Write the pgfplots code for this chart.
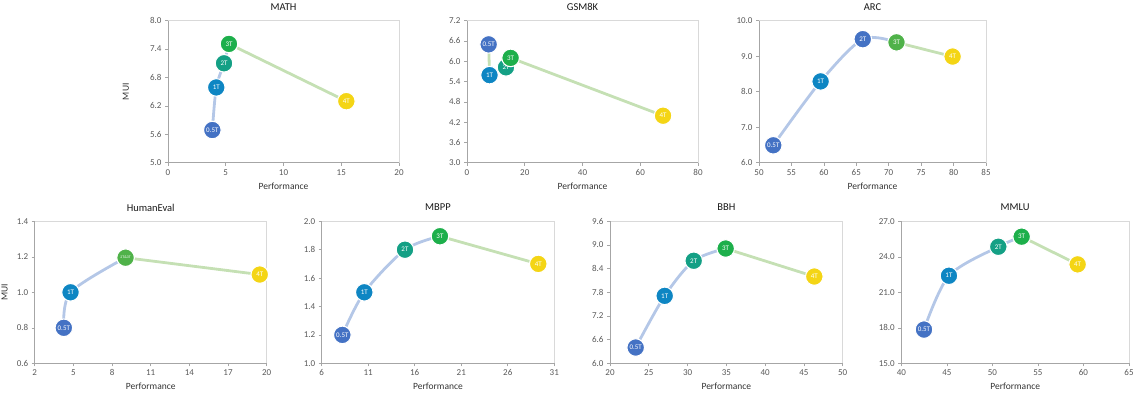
\documentclass[border=0pt]{standalone}
\usepackage{fontspec}
\setmainfont{Carlito}
\usepackage{pgfplots}
\pgfplotsset{compat=1.18}

\definecolor{cA}{HTML}{4472C4}
\definecolor{cB}{HTML}{0E86C3}
\definecolor{cC}{HTML}{14A085}
\definecolor{cD}{HTML}{1DAF4B}
\definecolor{cE}{HTML}{F4D515}
\definecolor{cF}{HTML}{4FB249}
\definecolor{lblue}{HTML}{B4C7E7}
\definecolor{lgreen}{HTML}{C5E0B4}
\definecolor{tickgray}{HTML}{595959}
\definecolor{axgray}{HTML}{A6A6A6}

\pgfplotsset{
  panel/.style={
    scale only axis, anchor=south west, height=142pt,
    axis x line*=bottom, axis y line*=left,
    axis line style={draw=axgray, line width=0.6pt},
    axis background/.style={draw=black!15, line width=0.6pt},
    tick align=outside, major tick length=3pt,
    tick style={draw=axgray, line width=0.6pt},
    minor tick num=0,
    clip=false,
    font=\fontsize{9}{10}\selectfont,
    tick label style={text=tickgray},
    /pgf/number format/assume math mode=true,
    yticklabel style={/pgf/number format/.cd, fixed, fixed zerofill, precision=1},
    xticklabel style={/pgf/number format/.cd, fixed},
    scaled ticks=false,
    title style={at={(axis description cs:0.5,1.055)}, anchor=center,
      font=\fontsize{10.5}{12}\selectfont, text=black!90},
    xlabel={Performance},
    xlabel style={at={(axis description cs:0.5,-0.165)}, anchor=center,
      font=\fontsize{9.5}{11}\selectfont, text=black!80},
    ylabel style={anchor=center, rotate=0,
      font=\fontsize{9.5}{11}\selectfont, text=black!80},
  },
  link/.style={line width=2.8pt, #1},
}

% one labelled disc: colour, label, x, y
\newcommand{\tok}[4]{%
  \addplot[only marks, mark=*, mark size=8.8pt,
    mark options={fill=#1, draw=white, line width=1.1pt},
    nodes near coords={#2},
    every node near coord/.style={anchor=center, text=white,
      font=\fontsize{7}{8}\selectfont, inner sep=0pt}]
    coordinates {(#3,#4)};}

\begin{document}
\begin{tikzpicture}
\path[use as bounding box] (0,0) rectangle (1134pt,394pt);

% ---------------- top row ----------------
\begin{axis}[panel, at={(168pt,231.3pt)}, width=231pt,
  title={MATH}, ylabel={MUI},
  ylabel style={at={(axis description cs:-0.182,0.5)}},
  xmin=0, xmax=20, xtick={0,5,10,15,20},
  ymin=5.0, ymax=8.0, ytick={5.0,5.6,6.2,6.8,7.4,8.0}]
  \addplot[link=lblue, smooth] coordinates {(3.84,5.69) (4.18,6.59) (4.85,7.10) (5.28,7.51)};
  \addplot[link=lgreen] coordinates {(5.28,7.51) (15.44,6.30)};
  \tok{cA}{0.5T}{3.84}{5.69}
  \tok{cB}{1T}{4.18}{6.59}
  \tok{cC}{2T}{4.85}{7.10}
  \tok{cD}{3T}{5.28}{7.51}
  \tok{cE}{4T}{15.44}{6.30}
\end{axis}

\begin{axis}[panel, at={(467pt,231.3pt)}, width=231pt,
  title={GSM8K},
  xmin=0, xmax=80, xtick={0,20,40,60,80},
  ymin=3.0, ymax=7.2, ytick={3.0,3.6,4.2,4.8,5.4,6.0,6.6,7.2}]
  \addplot[link=lgreen] coordinates {(7.5,6.50) (7.8,5.59) (13.5,5.82) (15.1,6.10) (67.9,4.39)};
  \tok{cA}{0.5T}{7.5}{6.50}
  \tok{cB}{1T}{7.8}{5.59}
  \tok{cC}{2T}{13.5}{5.82}
  \tok{cD}{3T}{15.1}{6.10}
  \tok{cE}{4T}{67.9}{4.39}
\end{axis}

\begin{axis}[panel, at={(759pt,231.3pt)}, width=227pt,
  title={ARC},
  xmin=50, xmax=85, xtick={50,55,60,65,70,75,80,85},
  ymin=6.0, ymax=10.0, ytick={6.0,7.0,8.0,9.0,10.0}]
  \addplot[link=lblue, smooth] coordinates {(52.2,6.49) (59.5,8.29) (66.0,9.48) (71.2,9.39)};
  \addplot[link=lgreen] coordinates {(71.2,9.39) (79.85,8.99)};
  \tok{cA}{0.5T}{52.2}{6.49}
  \tok{cB}{1T}{59.5}{8.29}
  \tok{cA}{2T}{66.0}{9.48}
  \tok{cF}{3T}{71.2}{9.39}
  \tok{cE}{4T}{79.85}{8.99}
\end{axis}

% ---------------- bottom row ----------------
\begin{axis}[panel, at={(34.7pt,30.7pt)}, width=232pt,
  title={HumanEval}, ylabel={MUI},
  ylabel style={at={(axis description cs:-0.13,0.5)}},
  xmin=2, xmax=20, xtick={2,5,8,11,14,17,20},
  ymin=0.6, ymax=1.4, ytick={0.6,0.8,1.0,1.2,1.4}]
  \addplot[link=lblue, smooth] coordinates {(4.26,0.80) (4.78,1.00) (9.05,1.195)};
  \addplot[link=lgreen] coordinates {(9.05,1.195) (19.46,1.10)};
  \tok{cA}{0.5T}{4.26}{0.80}
  \tok{cB}{1T}{4.78}{1.00}
  \tok{cF}{\fontsize{3.8}{4}\selectfont 2T\&3T}{9.05}{1.195}
  \tok{cE}{4T}{19.46}{1.10}
\end{axis}

\begin{axis}[panel, at={(321.7pt,30.7pt)}, width=232.6pt,
  title={MBPP},
  xmin=6, xmax=31, xtick={6,11,16,21,26,31},
  ymin=1.0, ymax=2.0, ytick={1.0,1.2,1.4,1.6,1.8,2.0}]
  \addplot[link=lblue, smooth] coordinates {(8.22,1.20) (10.58,1.50) (14.95,1.80) (18.71,1.895)};
  \addplot[link=lgreen] coordinates {(18.71,1.895) (29.28,1.70)};
  \tok{cA}{0.5T}{8.22}{1.20}
  \tok{cB}{1T}{10.58}{1.50}
  \tok{cC}{2T}{14.95}{1.80}
  \tok{cD}{3T}{18.71}{1.895}
  \tok{cE}{4T}{29.28}{1.70}
\end{axis}

\begin{axis}[panel, at={(610pt,30.7pt)}, width=232.7pt,
  title={BBH},
  xmin=20, xmax=50, xtick={20,25,30,35,40,45,50},
  ymin=6.0, ymax=9.6, ytick={6.0,6.6,7.2,7.8,8.4,9.0,9.6}]
  \addplot[link=lblue, smooth] coordinates {(23.31,6.40) (27.05,7.71) (30.79,8.60) (34.91,8.91)};
  \addplot[link=lgreen] coordinates {(34.91,8.91) (46.34,8.20)};
  \tok{cA}{0.5T}{23.31}{6.40}
  \tok{cB}{1T}{27.05}{7.71}
  \tok{cC}{2T}{30.79}{8.60}
  \tok{cD}{3T}{34.91}{8.91}
  \tok{cE}{4T}{46.34}{8.20}
\end{axis}

\begin{axis}[panel, at={(901.3pt,30.7pt)}, width=227.7pt,
  title={MMLU},
  xmin=40, xmax=65, xtick={40,45,50,55,60,65},
  ymin=15.0, ymax=27.0, ytick={15.0,18.0,21.0,24.0,27.0}]
  \addplot[link=lblue, smooth] coordinates {(42.49,17.85) (45.23,22.40) (50.65,24.85) (53.21,25.70)};
  \addplot[link=lgreen] coordinates {(53.21,25.70) (59.36,23.36)};
  \tok{cA}{0.5T}{42.49}{17.85}
  \tok{cB}{1T}{45.23}{22.40}
  \tok{cC}{2T}{50.65}{24.85}
  \tok{cD}{3T}{53.21}{25.70}
  \tok{cE}{4T}{59.36}{23.36}
\end{axis}
\end{tikzpicture}
\end{document}
